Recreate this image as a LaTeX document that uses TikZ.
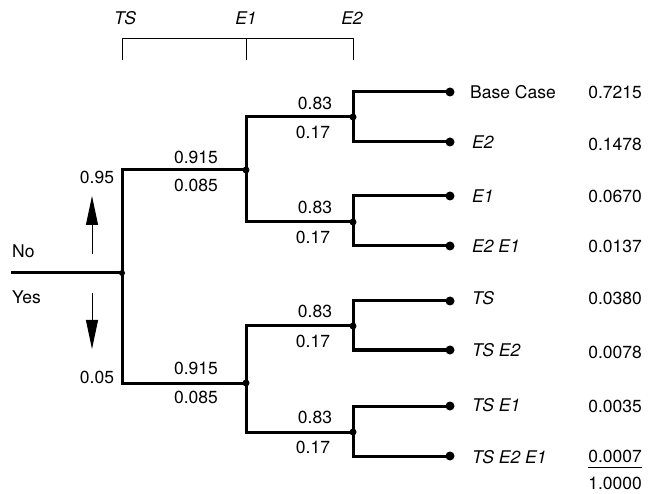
\documentclass[tikz,border=0pt]{standalone}
\usepackage{fontspec}
\setmainfont{TeX Gyre Heros}
\usetikzlibrary{arrows.meta}
\begin{document}
\begin{tikzpicture}[x=1pt,y=-1pt,
  tree/.style={line width=3pt},
  thinline/.style={line width=1pt},
  bdot/.style={circle,fill,inner sep=0pt,minimum size=7pt},
  ldot/.style={circle,fill,inner sep=0pt,minimum size=9pt},
  lab/.style={inner sep=0pt,font=\fontsize{17.5}{20}\selectfont},
  ilab/.style={inner sep=0pt,font=\fontsize{17.5}{20}\selectfont\itshape},
  leaf/.style={ilab,anchor=west},
  val/.style={lab,anchor=east},
  bigarrow/.style={thinline,-{Triangle[length=29pt,width=12pt]}}]
\useasboundingbox (0,0) rectangle (648,494);

% header bracket
\coordinate (k1b) at (122,60); \coordinate (k1t) at (122,39);
\coordinate (k2b) at (246,60); \coordinate (k2t) at (246,39);
\coordinate (k3b) at (353,60); \coordinate (k3t) at (353,39);
\draw[thinline] (k1b) -- (k1t) -- (k3t) -- (k3b);
\draw[thinline] (k2t) -- (k2b);
\node[ilab] (hTS) at (125,18) {TS};
\node[ilab] (hE1) at (246,18) {E1};
\node[ilab] (hE2) at (352,18) {E2};

% tree nodes
\coordinate (s) at (11,273);
\node[bdot,minimum size=6pt] (r) at (122,273) {};
\node[bdot] (a1) at (246,170) {};
\node[bdot] (a2) at (246,383) {};
\node[bdot] (b1) at (353,117) {};
\node[bdot] (b2) at (353,222) {};
\node[bdot] (b3) at (353,326) {};
\node[bdot] (b4) at (353,432) {};
\node[ldot] (l1) at (450,92) {};
\node[ldot] (l2) at (450,142) {};
\node[ldot] (l3) at (450,196) {};
\node[ldot] (l4) at (450,246) {};
\node[ldot] (l5) at (450,301) {};
\node[ldot] (l6) at (450,350) {};
\node[ldot] (l7) at (450,406) {};
\node[ldot] (l8) at (450,456) {};

% connectors
\draw[tree] (s) -- (r.center);
\draw[tree] (r.center) |- (a1.center);
\draw[tree] (r.center) |- (a2.center);
\draw[tree] (a1.center) |- (b1.center);
\draw[tree] (a1.center) |- (b2.center);
\draw[tree] (a2.center) |- (b3.center);
\draw[tree] (a2.center) |- (b4.center);
\draw[tree] (b1.center) |- (l1.center);
\draw[tree] (b1.center) |- (l2.center);
\draw[tree] (b2.center) |- (l3.center);
\draw[tree] (b2.center) |- (l4.center);
\draw[tree] (b3.center) |- (l5.center);
\draw[tree] (b3.center) |- (l6.center);
\draw[tree] (b4.center) |- (l7.center);
\draw[tree] (b4.center) |- (l8.center);

% No / Yes and arrows
\node[lab,anchor=west] (no) at (12,251) {No};
\node[lab,anchor=west] (yes) at (12,297) {Yes};
\coordinate (u0) at (92,254); \coordinate (u1) at (92,196);
\coordinate (d0) at (92,293); \coordinate (d1) at (92,349);
\draw[bigarrow] (u0) -- (u1);
\draw[bigarrow] (d0) -- (d1);

% probabilities
\node[lab] (p95) at (97,177) {0.95};
\node[lab] (p05) at (97,377) {0.05};
\node[lab] (p1a) at (196,157) {0.915};
\node[lab] (p1b) at (196,185) {0.085};
\node[lab] (p2a) at (196,368) {0.915};
\node[lab] (p2b) at (196,397) {0.085};
\node[lab] (q1a) at (315,103) {0.83};
\node[lab] (q1b) at (313,132) {0.17};
\node[lab] (q2a) at (315,207) {0.83};
\node[lab] (q2b) at (313,237) {0.17};
\node[lab] (q3a) at (315,311) {0.83};
\node[lab] (q3b) at (313,341) {0.17};
\node[lab] (q4a) at (315,417) {0.83};
\node[lab] (q4b) at (313,447) {0.17};

% leaf labels
\node[leaf,font=\fontsize{17.5}{20}\selectfont\upshape] (t1) at (470,92) {Base Case};
\node[leaf] (t2) at (472,142) {E2};
\node[leaf] (t3) at (472,196) {E1};
\node[leaf] (t4) at (472,246) {E2 E1};
\node[leaf] (t5) at (472,298) {TS};
\node[leaf] (t6) at (472,350) {TS E2};
\node[leaf] (t7) at (472,405) {TS E1};
\node[leaf] (t8) at (472,457) {TS E2 E1};

% values
\node[val] (v1) at (642,92) {0.7215};
\node[val] (v2) at (642,144) {0.1478};
\node[val] (v3) at (642,196) {0.0670};
\node[val] (v4) at (642,246) {0.0137};
\node[val] (v5) at (642,298) {0.0380};
\node[val] (v6) at (642,352) {0.0078};
\node[val] (v7) at (642,406) {0.0035};
\node[val] (v8) at (642,456) {0.0007};
\node[val] (tot) at (642,483) {1.0000};
\draw[line width=1.5pt] ([yshift=-5pt]v8.south west) -- ([yshift=-5pt]v8.south east);
\end{tikzpicture}
\end{document}
